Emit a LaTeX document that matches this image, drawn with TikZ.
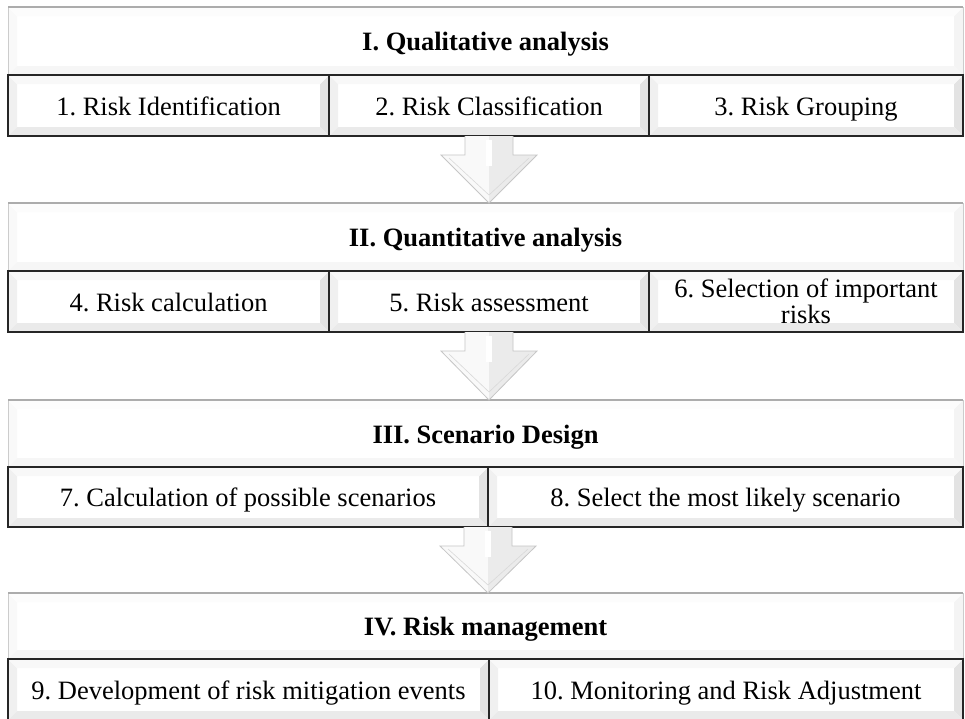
\documentclass[tikz,border=0pt]{standalone}
\usepackage{fontspec}
\setmainfont{Liberation Serif}
\usetikzlibrary{calc}
\colorlet{headbev}{gray!9}
\colorlet{subbev}{gray!22}
\frenchspacing
\begin{document}
\begin{tikzpicture}[x=1pt,y=-1pt,
  every node/.style={inner sep=0pt,outer sep=0pt,font=\fontsize{26.5}{26}\selectfont\frenchspacing},
  bevelface/.style={path picture={
     \coordinate (bsw) at (path picture bounding box.south west);
     \coordinate (bne) at (path picture bounding box.north east);
     \fill[#1!55] (bsw) -- (bsw|-bne) -- ($(bsw|-bne)+(9pt,-9pt)$) -- ($(bsw)+(9pt,9pt)$) -- cycle;
     \fill[#1] (bne) -- (bne|-bsw) -- ($(bne|-bsw)+(-9pt,9pt)$) -- ($(bne)+(-9pt,-9pt)$) -- cycle;
     \fill[#1!75] (bsw) -- (bne|-bsw) -- ($(bne|-bsw)+(-9pt,9pt)$) -- ($(bsw)+(9pt,9pt)$) -- cycle;
     \fill[#1!25] (bsw|-bne) -- (bne) -- ($(bne)+(-9pt,-9pt)$) -- ($(bsw|-bne)+(9pt,-9pt)$) -- cycle;
  }},
  headbox/.style={draw=gray!40,line width=1pt,fill=white,bevelface=headbev,text height=19pt,text depth=0pt,
     font=\fontsize{26.5}{26}\selectfont\bfseries\frenchspacing},
  subbox/.style={draw=black!85,line width=2pt,fill=white,bevelface=subbev,align=center,text height=19pt,text depth=0pt},
  twoline/.style={text height={},text depth={}},
  headtop/.style={draw=gray!65,line width=1.6pt},
  arrowfillL/.style={fill=gray!5},
  arrowfillR/.style={fill=gray!16},
  arrowline/.style={draw=gray!45,line width=0.8pt,line join=miter}
]
\useasboundingbox (0,0) rectangle (965,718);
\clip (0,0) rectangle (965,718);
\fill[white] (0,0) rectangle (965,718);

\newcommand\blockarrow[2]{%
  \path let \p1=(#1), \p2=(#2) in
    [arrowfillL] (\x1,\y1) -- (\x1-24pt,\y1) -- (\x1-24pt,\y1-19pt) -- (\x1-48pt,\y1-19pt) -- (\x1,\y2) -- cycle;
  \path let \p1=(#1), \p2=(#2) in
    [arrowfillR] (\x1,\y1) -- (\x1+24pt,\y1) -- (\x1+24pt,\y1-19pt) -- (\x1+48pt,\y1-19pt) -- (\x1,\y2) -- cycle;
  \path let \p1=(#1), \p2=(#2) in
    [draw=white,line width=6pt] (\x1,\y1-4pt) -- (\x1,\y1-30pt);
  \path let \p1=(#1), \p2=(#2) in
    [draw=gray!30,line width=0.6pt] (\x1-40pt,\y1-22pt) -- (\x1,\y2+8pt) -- (\x1+40pt,\y1-22pt);
  \path let \p1=(#1), \p2=(#2) in
    [arrowline] (\x1-24pt,\y1) -- (\x1-24pt,\y1-19pt) -- (\x1-48pt,\y1-19pt) -- (\x1,\y2) -- (\x1+48pt,\y1-19pt) -- (\x1+24pt,\y1-19pt) -- (\x1+24pt,\y1);
}

% ---------- Section I ----------
\node[headbox,minimum width=955pt,minimum height=68pt] (H1) at (485.5,41) {I. Qualitative analysis};
\draw[headtop] (H1.north west) -- (H1.north east);
\node[subbox,minimum width=321pt,minimum height=61pt] (s1) at (168.5,105.5) {1. Risk Identification};
\node[subbox,minimum width=320pt,minimum height=61pt] (s2) at (489,105.5) {2. Risk Classification};
\node[subbox,minimum width=314pt,minimum height=61pt] (s3) at (806,105.5) {3. Risk Grouping};

% ---------- Section II ----------
\node[headbox,minimum width=955pt,minimum height=68pt] (H2) at (485.5,237) {II. Quantitative analysis};
\draw[headtop] (H2.north west) -- (H2.north east);
\node[subbox,minimum width=321pt,minimum height=61pt] (s4) at (168.5,301.5) {4. Risk calculation};
\node[subbox,minimum width=320pt,minimum height=61pt] (s5) at (489,301.5) {5. Risk assessment};
\node[subbox,twoline,minimum width=314pt,minimum height=61pt] (s6) at (806,301.5) {6. Selection of important\\risks};

% ---------- Section III ----------
\node[headbox,minimum width=955pt,minimum height=67pt] (H3) at (485.5,433.5) {III. Scenario Design};
\draw[headtop] (H3.north west) -- (H3.north east);
\node[subbox,minimum width=480pt,minimum height=60pt] (s7) at (248,497) {7. Calculation of possible scenarios};
\node[subbox,minimum width=475pt,minimum height=60pt] (s8) at (725.5,497) {8. Select the most likely scenario};

% ---------- Section IV ----------
\node[headbox,minimum width=955pt,minimum height=66pt] (H4) at (485.5,626) {IV. Risk management};
\draw[headtop] (H4.north west) -- (H4.north east);
\node[subbox,minimum width=481pt,minimum height=61pt] (s9) at (248.5,689.5) {9. Development of risk mitigation events};
\node[subbox,minimum width=474pt,minimum height=61pt] (s10) at (726,689.5) {10. Monitoring and Risk Adjustment};

% ---------- block arrows ----------
\coordinate (a1top) at (s2.south);
\coordinate (a1tip) at (s2.south |- H2.north);
\coordinate (a2top) at (s5.south);
\coordinate (a2tip) at (s5.south |- H3.north);
\coordinate (a3top) at (s7.south east);
\coordinate (a3tip) at (s7.south east |- H4.north);
\blockarrow{a1top}{a1tip}
\blockarrow{a2top}{a2tip}
\blockarrow{a3top}{a3tip}
\end{tikzpicture}
\end{document}
